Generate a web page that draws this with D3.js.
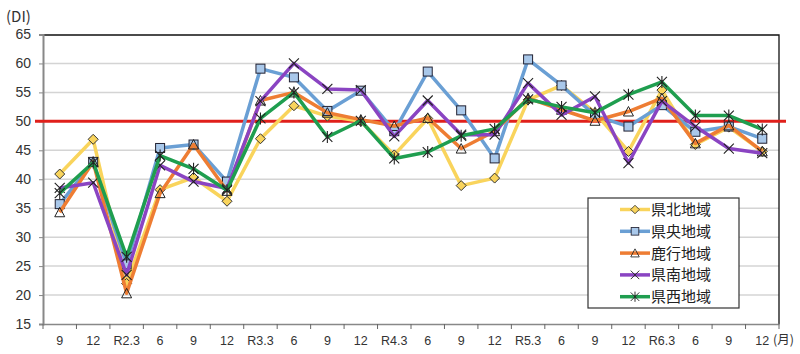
<!DOCTYPE html>
<meta charset="utf-8">
<style>
body { margin: 0; background: #fff; font-family: "Noto Sans CJK JP", "Liberation Sans", sans-serif; }
.grid line { stroke: #d4d4d4; stroke-width: 1.5; }
.tick text { fill: #333; }
</style>
<body>
<script src="https://cdn.jsdelivr.net/npm/d3@7"></script>
<script>

var width = 800,
    height = 354;

// quarter labels on the x axis
var months = ["9", "12", "R2.3", "6", "9", "12", "R3.3", "6", "9", "12", "R4.3",
              "6", "9", "12", "R5.3", "6", "9", "12", "R6.3", "6", "9", "12"];

var kenpoku = [40.9, 46.9, 22.0, 38.2, 40.3, 36.2, 47.0, 52.7, 50.9, 50.0, 44.2,
               50.5, 38.9, 40.2, 53.7, 56.2, 51.5, 44.8, 55.4, 46.0, 49.0, 44.8];
var kenou   = [35.7, 43.0, 25.3, 45.4, 46.0, 39.6, 59.1, 57.6, 51.8, 55.3, 48.3,
               58.6, 51.9, 43.6, 60.7, 56.2, 51.0, 49.1, 52.8, 48.2, 49.1, 47.0];
var rokkou  = [34.3, 43.0, 20.3, 37.6, 46.0, 38.0, 53.6, 55.0, 51.5, 50.3, 49.2,
               50.6, 45.3, 48.3, 54.0, 52.0, 50.1, 51.7, 54.0, 46.2, 49.3, 44.8];
var kennan  = [38.5, 39.4, 23.5, 42.4, 39.6, 38.4, 53.5, 60.0, 55.6, 55.4, 47.4,
               53.6, 47.7, 47.7, 56.6, 51.1, 54.3, 42.8, 53.5, 49.1, 45.3, 44.5];
var kensei  = [37.6, 42.9, 26.6, 44.1, 41.8, 38.1, 50.5, 55.0, 47.3, 50.1, 43.6,
               44.7, 47.5, 48.7, 53.8, 52.5, 51.5, 54.6, 56.8, 51.0, 51.0, 48.6];

var names   = ["県北地域", "県央地域", "鹿行地域", "県南地域", "県西地域"];
var colors  = ["#f9d45c", "#6a9fd4", "#ee7d33", "#8a44c2", "#1f9e4f"];
var markers = ["diamond", "square", "triangle", "cross", "asterisk"];
var series  = [kenpoku, kenou, rokkou, kennan, kensei];

var yTicks = [15, 20, 25, 30, 35, 40, 45, 50, 55, 60, 65];

var margin = {top: 34.5, right: 21, bottom: 30, left: 43};
var iw = width - margin.left - margin.right,
    ih = height - margin.top - margin.bottom;

var x = d3.scaleBand().domain(d3.range(months.length)).range([0, iw]);
var y = d3.scaleLinear().domain([15, 65]).range([ih, 0]);

var svg = d3.select("body").append("svg")
    .attr("width", width)
    .attr("height", height);

var g = svg.append("g")
    .attr("transform", "translate(" + margin.left + "," + margin.top + ")");

// horizontal grid
g.append("g").attr("class", "grid")
  .selectAll("line")
    .data(yTicks.filter(function(d) { return d > 15 && d < 65; }))
  .enter().append("line")
    .attr("x1", 0).attr("x2", iw)
    .attr("y1", function(d) { return y(d); })
    .attr("y2", function(d) { return y(d); });

// top and right border
g.append("path")
    .attr("d", "M0,0.5H" + iw + "V" + ih)
    .attr("fill", "none").attr("stroke", "#111").attr("stroke-width", 1.3);

// y axis
var yAxis = g.append("g")
    .call(d3.axisLeft(y).tickValues(yTicks).tickSize(4).tickPadding(8));
yAxis.selectAll("text").style("font-size", "14px").style("font-family", "Liberation Sans, sans-serif");
yAxis.select(".domain").attr("stroke", "#888").attr("stroke-width", 2);
yAxis.selectAll(".tick line").attr("stroke", "#888");

// x axis, ticks between categories
var xAxis = g.append("g")
    .attr("transform", "translate(0," + ih + ")")
    .call(d3.axisBottom(x).tickFormat(function(i) { return months[i]; }).tickSize(0).tickPadding(12));
xAxis.selectAll("text").style("font-size", "12.5px").style("font-family", "Liberation Sans, sans-serif");
xAxis.select(".domain").attr("stroke", "#888").attr("stroke-width", 1.5);
xAxis.selectAll(".sep")
    .data(d3.range(months.length + 1))
  .enter().append("line")
    .attr("class", "sep")
    .attr("x1", function(i) { return i * x.step(); })
    .attr("x2", function(i) { return i * x.step(); })
    .attr("y1", 0).attr("y2", 5)
    .attr("stroke", "#666");

// 50 line
g.append("line")
    .attr("x1", -8).attr("x2", iw + 7)
    .attr("y1", y(50)).attr("y2", y(50))
    .attr("stroke", "#e0201b").attr("stroke-width", 3);

function drawMarker(sel, type, color) {
  var s = 4.5;
  if (type === "diamond") {
    sel.append("path").attr("d", "M0,-5L5,0L0,5L-5,0Z")
      .attr("fill", color).attr("stroke", "#333").attr("stroke-width", 1);
  } else if (type === "square") {
    sel.append("rect").attr("x", -s).attr("y", -s).attr("width", 2 * s).attr("height", 2 * s)
      .attr("fill", "#a9c8ea").attr("stroke", "#223").attr("stroke-width", 1);
  } else if (type === "triangle") {
    sel.append("path").attr("d", "M0,-5L5,4.5L-5,4.5Z")
      .attr("fill", "none").attr("stroke", "#222").attr("stroke-width", 1);
  } else if (type === "cross") {
    sel.append("path").attr("d", "M-5,-5L5,5M-5,5L5,-5")
      .attr("stroke", "#222").attr("stroke-width", 1.1);
  } else {
    sel.append("path").attr("d", "M-5,-5L5,5M-5,5L5,-5M0,-6V6")
      .attr("stroke", "#222").attr("stroke-width", 1.1);
  }
}

var line = d3.line()
    .x(function(d, i) { return x(i) + x.bandwidth() / 2; })
    .y(function(d) { return y(d); });

series.forEach(function(vals, k) {
  g.append("path")
      .datum(vals)
      .attr("d", line)
      .attr("fill", "none")
      .attr("stroke", colors[k])
      .attr("stroke-width", 3.5)
      .attr("stroke-linejoin", "round");
  g.selectAll(".m" + k)
      .data(vals)
    .enter().append("g")
      .attr("class", "m" + k)
      .attr("transform", function(d, i) { return "translate(" + (x(i) + x.bandwidth() / 2) + "," + y(d) + ")"; })
      .each(function() { drawMarker(d3.select(this), markers[k], colors[k]); });
});

// legend
var lg = svg.append("g").attr("transform", "translate(588,198)");
lg.append("rect").attr("width", 151).attr("height", 110)
    .attr("fill", "#fff").attr("stroke", "#333").attr("stroke-width", 1.2);
names.forEach(function(n, k) {
  var row = lg.append("g").attr("transform", "translate(0," + (11.5 + k * 21.8) + ")");
  row.append("line").attr("x1", 32).attr("x2", 62).attr("stroke", colors[k]).attr("stroke-width", 3.5);
  var m = row.append("g").attr("transform", "translate(47,0) scale(0.85)");
  drawMarker(m, markers[k], colors[k]);
  row.append("text").attr("x", 63).attr("y", 5.5)
      .style("font-size", "15px").attr("fill", "#222").text(n);
});

svg.append("text").attr("x", 6).attr("y", 22)
    .style("font-size", "15px").attr("fill", "#333").text("(DI)");
svg.append("text").attr("x", 773).attr("y", 344)
    .style("font-size", "12.5px").attr("fill", "#333").text("(月)");

</script>
</body>
